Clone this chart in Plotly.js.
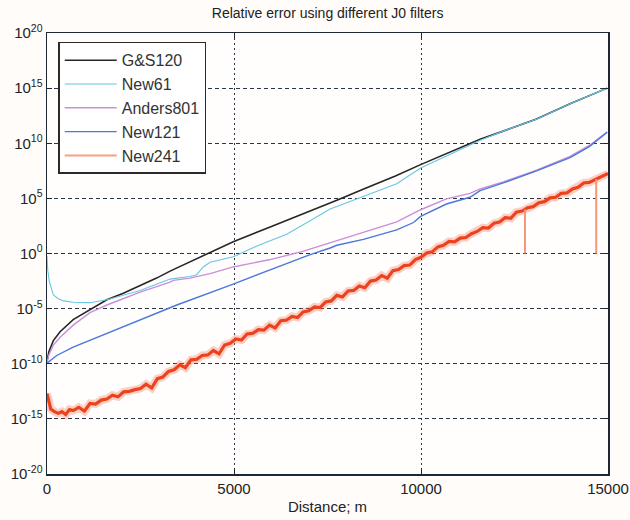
<!DOCTYPE html>
<html>
<head>
<meta charset="utf-8">
<script src="https://cdn.plot.ly/plotly-3.0.1.min.js"></script>
<style>html,body{margin:0;padding:0;background:#fffcfa;}#chart{width:630px;height:520px;}</style>
</head>
<body>
<div id="chart"></div>
<script>
// Distances (m) and log10 of the relative error
const gsX   = [0, 50, 170, 350, 700, 1150, 1600, 2040, 2490, 2930, 3290, 3470, 4000, 4980, 6000, 7000, 7750, 8500, 9300, 9990, 11300, 11580, 12200, 13090, 14000, 14980];
const gsLog = [-9.8, -8.9, -7.9, -7.1, -6.0, -5.06, -4.2, -3.6, -2.93, -2.23, -1.6, -1.31, -0.5, 1.07, 2.45, 3.8, 4.84, 5.9, 7.0, 8.06, 9.98, 10.37, 11.1, 12.2, 13.6, 15.0];

const n61X   = [0, 20, 60, 120, 170, 300, 440, 700, 1150, 1600, 1860, 2490, 3290, 3820, 4000, 4180, 4360, 4980, 5610, 6410, 7000, 7570, 7750, 8460, 9350, 9990, 11130, 11600, 12200, 13100, 14000, 14980];
const n61Log = [-0.2, -1.5, -2.5, -3.3, -3.75, -4.1, -4.3, -4.42, -4.46, -4.2, -3.97, -3.36, -2.32, -2.08, -1.92, -1.22, -0.8, -0.3, 0.67, 1.74, 2.9, 4.03, 4.27, 5.19, 6.32, 7.75, 9.59, 10.3, 11.1, 12.2, 13.6, 15.0];

const a801X   = [0, 50, 170, 350, 700, 1150, 1600, 2490, 3290, 3380, 3820, 4360, 4980, 5970, 6860, 7570, 7750, 8460, 9350, 9990, 10680, 11310, 11580, 12200, 13090, 13985, 14500, 14980];
const a801Log = [-9.9, -9.2, -8.3, -7.6, -6.5, -5.37, -4.67, -3.5, -2.6, -2.44, -2.23, -1.83, -1.22, -0.55, 0.21, 0.98, 1.13, 1.95, 2.87, 3.97, 4.95, 5.45, 5.86, 6.5, 7.55, 8.8, 9.8, 11.03];

const n121X   = [0, 260, 700, 1600, 2490, 3290, 3470, 4980, 6000, 7000, 7570, 7750, 8460, 9350, 9800, 9990, 10680, 11310, 11580, 12200, 13090, 13985, 14500, 14980];
const n121Log = [-9.95, -9.25, -8.5, -7.26, -6.04, -4.92, -4.67, -2.77, -1.45, -0.15, 0.5, 0.75, 1.28, 2.14, 2.81, 3.36, 4.49, 5.1, 5.71, 6.4, 7.5, 8.7, 9.7, 11.0];

const n241X = [0, 100, 200, 300, 400, 500, 600, 700, 850, 1000, 1150, 1300, 1450, 1600, 1750, 1900, 2050, 2200, 2350, 2500, 2650, 2800, 2950, 3100, 3250, 3400, 3550, 3700, 3850, 4000, 4150, 4300, 4450, 4600, 4750, 4900, 5050, 5200, 5350, 5500, 5650, 5800, 5950, 6100, 6250, 6400, 6550, 6700, 6850, 7000, 7150, 7300, 7450, 7600, 7750, 7900, 8050, 8200, 8350, 8500, 8650, 8800, 8950, 9100, 9250, 9400, 9550, 9700, 9850, 10000, 10150, 10300, 10450, 10600, 10750, 10900, 11050, 11200, 11350, 11500, 11650, 11800, 11950, 12100, 12250, 12400, 12550, 12700, 12780, 12850, 13000, 13150, 13300, 13450, 13600, 13750, 13900, 14050, 14200, 14350, 14500, 14685, 14850, 15000];
const n241Log = [-12.7, -14.1, -14.35, -14.5, -14.35, -14.6, -14.15, -14.25, -13.95, -14.3, -13.6, -13.65, -13.3, -13.2, -12.85, -13.0, -12.55, -12.5, -12.35, -12.25, -11.85, -12.2, -11.35, -11.2, -10.7, -10.55, -10.1, -10.35, -9.65, -9.6, -9.25, -9.2, -8.8, -9.1, -8.3, -8.15, -7.75, -7.85, -7.3, -7.25, -6.9, -6.95, -6.5, -6.75, -6.1, -6.05, -5.7, -5.8, -5.3, -5.2, -4.85, -4.9, -4.4, -4.3, -3.8, -3.95, -3.4, -3.35, -2.95, -3.1, -2.5, -2.4, -2.0, -2.25, -1.55, -1.45, -1.1, -1.05, -0.55, -0.35, 0.05, 0.15, 0.6, 0.75, 1.1, 1.05, 1.4, 1.45, 1.8, 2.0, 2.35, 2.3, 2.75, 2.85, 3.25, 3.2, 3.75, 3.85, 4.0, 4.15, 4.25, 4.6, 4.7, 5.05, 5.1, 5.45, 5.5, 5.85, 6.0, 6.4, 6.45, 6.75, 6.95, 7.25];
// narrow downward spikes of New241
const n241SpikeX   = [12780, 12780, null, 14685, 14685];
const n241SpikeLog = [4.0, 0.0, null, 6.75, 0.0];

const names  = ['G&S120', 'New61', 'Anders801', 'New121', 'New241'];
const yTickExp = [-20, -15, -10, -5, 0, 5, 10, 15, 20];
const xTicks = [0, 5000, 10000, 15000];

const pow10 = a => a.map(v => v === null ? null : Math.pow(10, v));
const series = [
  {x: gsX,   y: gsLog,   color: '#262626', w: 1.6},
  {x: n61X,  y: n61Log,  color: '#66c6e6', w: 1.1},
  {x: a801X, y: a801Log, color: '#c98fd8', w: 1.4},
  {x: n121X, y: n121Log, color: '#4a78dc', w: 1.4}
];
const traces = series.map((s, i) => ({
  x: s.x, y: pow10(s.y), name: names[i], type: 'scatter', mode: 'lines',
  line: {color: s.color, width: s.w}
}));
// New241: soft halo, core band, thin spikes, and a legend entry
traces.push({x: n241X, y: pow10(n241Log), type: 'scatter', mode: 'lines', showlegend: false,
  line: {color: 'rgba(246,120,90,0.35)', width: 8}, hoverinfo: 'skip'});
traces.push({x: n241X, y: pow10(n241Log), type: 'scatter', mode: 'lines', showlegend: false,
  name: names[4], line: {color: 'rgb(236,66,30)', width: 3.2}});
traces.push({x: n241SpikeX, y: pow10(n241SpikeLog), type: 'scatter', mode: 'lines', showlegend: false,
  name: names[4], line: {color: 'rgb(246,150,120)', width: 2}});
traces.push({x: [null], y: [null], type: 'scatter', mode: 'lines', name: names[4],
  line: {color: '#f6a07e', width: 2}});

const layout = {
  width: 630, height: 520,
  margin: {l: 47, r: 22, t: 33, b: 46},
  paper_bgcolor: '#fffcfa', plot_bgcolor: '#fffefd',
  font: {family: 'Liberation Sans, Arial, sans-serif', color: '#222'},
  title: {text: 'Relative error using different J0 filters', font: {size: 14, color: '#222'},
          x: 0.52, xref: 'container', y: 0.974, yref: 'container', yanchor: 'middle'},
  showlegend: true,
  legend: {x: 0.02, y: 0.98, xanchor: 'left', yanchor: 'top', bgcolor: '#ffffff',
           bordercolor: '#2a2a2a', borderwidth: 1.5, font: {size: 16, color: '#333'},
           itemwidth: 52},
  xaxis: {
    range: [0, 15000], tickvals: xTicks, ticktext: xTicks.map(String),
    ticks: 'inside', ticklen: 5, tickcolor: '#1c2833', mirror: 'ticks',
    showline: true, linecolor: '#1c2833', linewidth: 1.5,
    showgrid: true, gridcolor: '#2a3644', gridwidth: 1, griddash: '2px,3px',
    zeroline: false, tickfont: {size: 15, color: '#222'},
    title: {text: 'Distance; m', font: {size: 15, color: '#222'}, standoff: 6}
  },
  yaxis: {
    type: 'log', range: [-20, 20],
    tickvals: yTickExp.map(e => Math.pow(10, e)),
    ticktext: yTickExp.map(e => '10<sup>' + e + '</sup>'),
    ticks: 'inside', ticklen: 5, tickcolor: '#1c2833', mirror: 'ticks',
    showline: true, linecolor: '#1c2833', linewidth: 1.5,
    showgrid: true, gridcolor: '#2a3644', gridwidth: 1, griddash: '4px,3px',
    zeroline: false, tickfont: {size: 15, color: '#222'}
  }
};

Plotly.newPlot('chart', traces, layout, {displayModeBar: false, staticPlot: true});
</script>
</body>
</html>
